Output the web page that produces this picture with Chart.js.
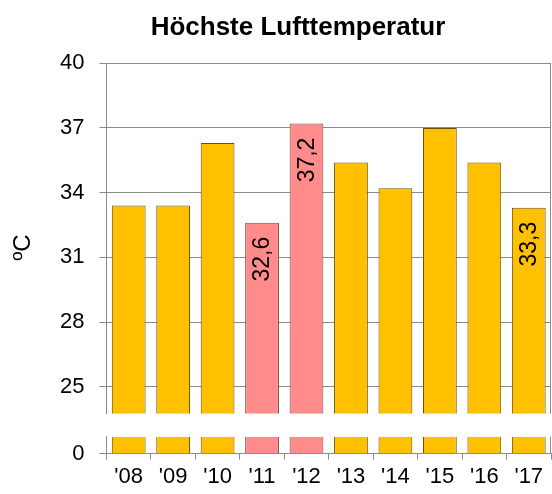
<!DOCTYPE html>
<html>
<head>
<meta charset="utf-8">
<script src="https://cdn.jsdelivr.net/npm/chart.js@4.4.1/dist/chart.umd.min.js"></script>
<style>
  html, body { margin: 0; padding: 0; background: #fff; }
  canvas { display: block; }
</style>
</head>
<body>
<canvas id="myChart" width="552" height="494"></canvas>
<script>
// values
const years = ["'08", "'09", "'10", "'11", "'12", "'13", "'14", "'15", "'16", "'17"];
const maxTemp = [33.4, 33.4, 36.3, 32.6, 37.2, 35.4, 34.2, 37.0, 35.4, 33.3];
const valueLabels = [null, null, null, '32,6', '37,2', null, null, null, null, '33,3'];
const highlighted = ["'11", "'12"];
const upperTicks = [25, 28, 31, 34, 37, 40];
const lowerTicks = [0];
const upperRange = [23.75, 40];
const lowerRange = [0, 0.8];

const orange = '#FFC000';
const pink = '#FF8B8B';
const gridGrey = '#8c8c8c';
const font = "'Liberation Sans', Arial, sans-serif";

const fillColors = years.map(y => highlighted.includes(y) ? pink : orange);
const edgeColors = years.map(y => highlighted.includes(y) ? '#7a4545' : '#6b5200');

// clip each dataset to its own (stacked) y scale
const segmentClip = {
  id: 'segmentClip',
  beforeDatasetDraw(chart, args) {
    const m = args.meta, c = chart.ctx;
    c.save();
    c.beginPath();
    c.rect(m.xScale.left, m.yScale.top, m.xScale.right - m.xScale.left, m.yScale.bottom - m.yScale.top);
    c.clip();
  },
  afterDatasetDraw(chart) { chart.ctx.restore(); }
};

const extras = {
  id: 'extras',
  afterDatasetsDraw(chart) {
    const c = chart.ctx;
    const r = chart.chartArea.right - 0.5;
    // right frame of both parts
    c.save();
    c.strokeStyle = gridGrey;
    c.lineWidth = 1;
    c.beginPath();
    [chart.scales.y, chart.scales.y2].forEach(s => {
      c.moveTo(r, s.top);
      c.lineTo(r, s.bottom);
    });
    c.stroke();
    c.restore();

    // rotated value labels inside bars
    const meta = chart.getDatasetMeta(0);
    c.save();
    c.font = '23px ' + font;
    c.fillStyle = '#000';
    c.textAlign = 'right';
    c.textBaseline = 'middle';
    meta.data.forEach((bar, i) => {
      if (!valueLabels[i]) return;
      c.save();
      c.translate(bar.x + 1, bar.y + 14);
      c.rotate(-Math.PI / 2);
      c.fillText(valueLabels[i], 0, 0);
      c.restore();
    });
    c.restore();
  },
  afterDraw(chart) {
    const c = chart.ctx;
    const a = chart.chartArea;
    c.save();
    c.font = '24px ' + font;
    c.fillStyle = '#000';
    c.textAlign = 'center';
    c.textBaseline = 'middle';
    c.translate(23, (a.top + a.bottom) / 2 - 11);
    c.rotate(-Math.PI / 2);
    c.fillText('ºC', 0, 0);
    c.restore();
  }
};

const barDefaults = {
  data: maxTemp,
  backgroundColor: fillColors,
  borderColor: edgeColors,
  borderWidth: 1,
  grouped: false,
  barPercentage: 0.76,
  categoryPercentage: 1
};

const ctx = document.getElementById('myChart').getContext('2d');
new Chart(ctx, {
  type: 'bar',
  data: {
    labels: years,
    datasets: [
      Object.assign({}, barDefaults, { yAxisID: 'y' }),
      Object.assign({}, barDefaults, { yAxisID: 'y2' })
    ]
  },
  options: {
    responsive: false,
    animation: false,
    devicePixelRatio: 1,
    layout: { padding: { left: 45, right: 1, top: 0, bottom: 0 } },
    plugins: {
      legend: { display: false },
      tooltip: { enabled: false },
      title: {
        display: true,
        text: 'Höchste Lufttemperatur',
        color: '#000',
        font: { family: font, size: 26, weight: 'bold' },
        padding: { top: 12, bottom: 20 }
      }
    },
    scales: {
      x: {
        grid: { display: true, drawOnChartArea: false, offset: true, tickLength: 6, color: gridGrey },
        border: { display: true, color: gridGrey },
        ticks: { color: '#000', font: { family: font, size: 22 }, padding: 4 }
      },
      y: {
        position: 'left',
        stack: 'v',
        stackWeight: 351,
        weight: 3,
        min: upperRange[0],
        max: upperRange[1],
        afterBuildTicks: s => { s.ticks = upperTicks.map(v => ({ value: v })); },
        grid: { color: gridGrey, tickLength: 7 },
        border: { display: true, color: gridGrey },
        ticks: { color: '#000', font: { family: font, size: 22 }, padding: 15 }
      },
      yGap: {
        position: 'left',
        axis: 'y',
        stack: 'v',
        stackWeight: 23,
        weight: 2,
        min: 0,
        max: 1,
        display: false
      },
      y2: {
        position: 'left',
        stack: 'v',
        stackWeight: 17,
        weight: 1,
        min: lowerRange[0],
        max: lowerRange[1],
        afterBuildTicks: s => { s.ticks = lowerTicks.map(v => ({ value: v })); },
        grid: { color: gridGrey, tickLength: 7 },
        border: { display: true, color: gridGrey },
        ticks: { color: '#000', font: { family: font, size: 22 }, padding: 15 }
      }
    }
  },
  plugins: [segmentClip, extras]
});
</script>
</body>
</html>
